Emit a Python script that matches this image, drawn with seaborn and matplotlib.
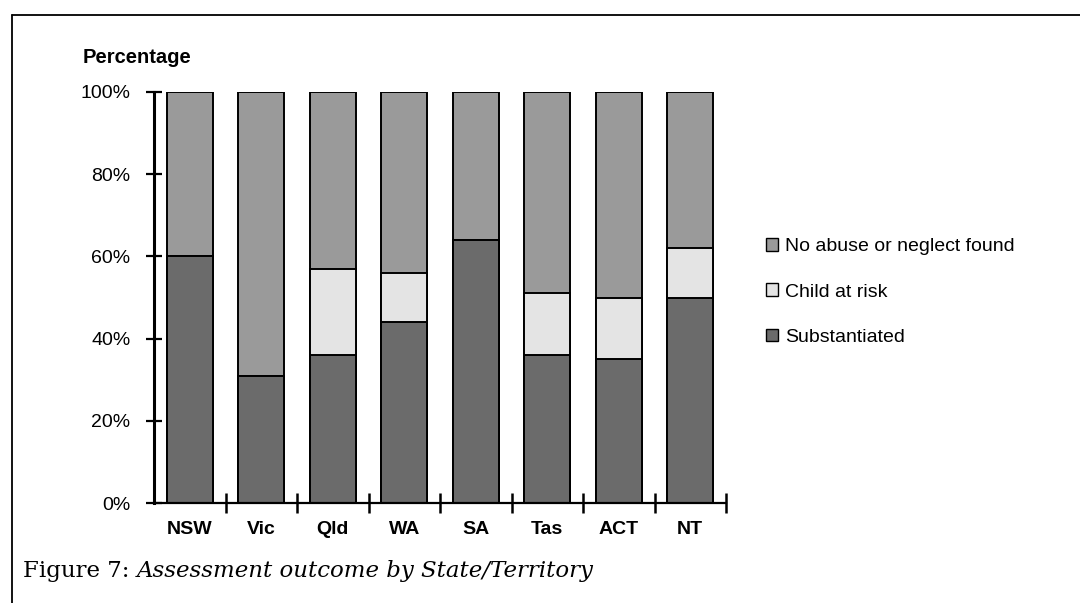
import numpy as np
import pandas as pd
import matplotlib.pyplot as plt
import matplotlib.lines as mlines
import matplotlib.patches as mpatches
import seaborn as sns

# datos (porcentajes)
estados = ["NSW", "Vic", "Qld", "WA", "SA", "Tas", "ACT", "NT"]
substantiated = [60, 31, 36, 44, 64, 36, 35, 50]
child_at_risk = [0, 0, 21, 12, 0, 15, 15, 12]
no_abuse = [40, 69, 43, 44, 36, 49, 50, 38]

etiquetas = ["No abuse or neglect found", "Child at risk", "Substantiated"]
colores = ["#9a9a9a", "#e4e4e4", "#6b6b6b"]
y_ticks = [0, 20, 40, 60, 80, 100]

df = pd.DataFrame({"estado": estados, "sub": substantiated,
                   "risk": child_at_risk, "none": no_abuse})
df["top_risk"] = df["sub"] + df["risk"]
df["total"] = df["top_risk"] + df["none"]

sns.set_style("white")
plt.rcParams["font.family"] = ["Liberation Sans", "DejaVu Sans"]
plt.rcParams["text.color"] = "black"
plt.rcParams["xtick.color"] = "black"
plt.rcParams["ytick.color"] = "black"

fig = plt.figure(figsize=(10.8, 6.03), dpi=100)
ax = fig.add_axes([154 / 1080, 1 - 503 / 603, (726 - 154) / 1080, (503 - 92) / 603])

# barras apiladas: se dibuja primero el total, luego encima las capas inferiores
for col, color in zip(["total", "top_risk", "sub"], colores):
    sns.barplot(data=df, x="estado", y=col, color=color, width=0.64,
                edgecolor="black", linewidth=1.4, saturation=1, ax=ax)

ax.set_xlim(-0.5, len(estados) - 0.5)
ax.set_ylim(0, 100)
ax.set_xlabel("")
ax.set_ylabel("")

# ejes
for s in ["top", "right"]:
    ax.spines[s].set_visible(False)
ax.spines["left"].set_linewidth(2.2)
ax.spines["bottom"].set_linewidth(1.6)
ax.spines["left"].set_color("black")
ax.spines["bottom"].set_color("black")

ax.set_yticks(y_ticks)
ax.set_yticklabels([f"{v}%" for v in y_ticks], fontsize=14)
ax.tick_params(axis="y", direction="inout", length=12, width=1.6, pad=11, left=True)
ax.set_xticks(np.arange(len(estados)))
ax.set_xticklabels(estados, fontsize=14, fontweight="bold")
ax.tick_params(axis="x", which="major", length=0, pad=13)
ax.set_xticks(np.arange(len(estados)) + 0.5, minor=True)
ax.tick_params(axis="x", which="minor", direction="inout", length=14, width=1.8, bottom=True)

fig.text(83 / 1080, 1 - 63 / 603, "Percentage", fontsize=14.5, fontweight="bold", va="baseline")

# leyenda
handles = [mpatches.Patch(facecolor=c, edgecolor="black", linewidth=1.0) for c in colores]
fig.legend(handles, etiquetas, loc="center left", bbox_to_anchor=(766 / 1080, 1 - 292 / 603),
           frameon=False, fontsize=14, handlelength=0.62, handleheight=0.62,
           handletextpad=0.35, labelspacing=1.45, borderpad=0, borderaxespad=0)

# marco de la pagina
fig.add_artist(mlines.Line2D([12 / 1080, 1], [1 - 15 / 603, 1 - 15 / 603], color="black", lw=1.3))
fig.add_artist(mlines.Line2D([12 / 1080, 12 / 1080], [0, 1 - 15 / 603], color="black", lw=1.3))

# titulo de la figura
serif = ["DejaVu Serif", "Liberation Serif"]
t1 = fig.text(23 / 1080, 1 - 577 / 603, "Figure 7: ", fontsize=16.5, family=serif, va="baseline")
fig.canvas.draw()
bb = t1.get_window_extent()
fig.text(bb.x1 / fig.bbox.width, 1 - 577 / 603, "Assessment outcome by State/Territory",
         fontsize=16.5, style="italic", family=serif, va="baseline")

fig.savefig("out.png", dpi=100)
